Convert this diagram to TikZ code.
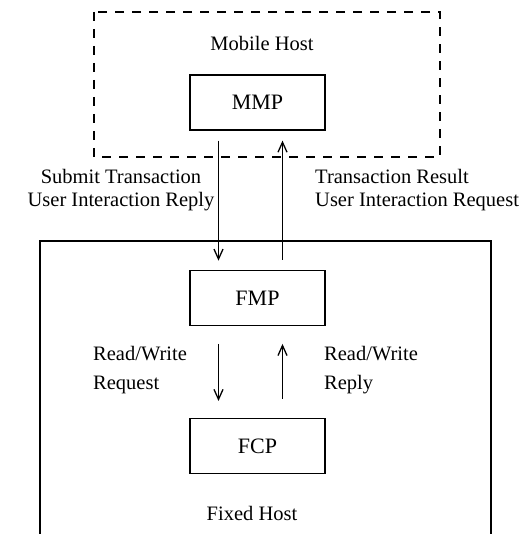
\documentclass[tikz,border=0pt]{standalone}
\usepackage{fontspec}
\setmainfont{Liberation Serif}
\usetikzlibrary{arrows.meta,positioning}

\begin{document}
\begin{tikzpicture}[
  x=1pt,y=1pt,
  font=\fontsize{20.5}{23}\selectfont,
  proc/.style={draw,line width=1.3pt,minimum width=135pt,minimum height=55pt,font=\fontsize{22}{26}\selectfont},
  host/.style={line width=1.3pt},
  arr/.style={-{Straight Barb[length=10pt,width=9pt]},line width=1.3pt},
  lbl/.style={inner sep=0pt,align=left},
]
\useasboundingbox (0,0) rectangle (531,-534);

\node[proc] (mmp) at (257.5,-102.5) {MMP};
\node[proc,below=139pt of mmp] (fmp) {FMP};
\node[proc,below=92pt of fmp] (fcp) {FCP};

% hosts
\draw[host,dash pattern=on 9pt off 8pt] (94,-12) rectangle (440,-157);
\node (mobile) at (262,-43) {Mobile Host};
\coordinate (fixbl) at (40,-534);
\coordinate (fixtr) at (491,-241);
\draw[host] (fixbl) |- (fixtr) -- (fixtr |- fixbl);
\node (fixed) at (252,-513) {Fixed Host};

% messages
\draw[arr] ([xshift=-39pt,yshift=-10pt]mmp.south) -- ([xshift=-39pt,yshift=9pt]fmp.north);
\draw[arr] ([xshift=25pt,yshift=10pt]fmp.north) -- ([xshift=25pt,yshift=-10pt]mmp.south);
\draw[arr] ([xshift=-39pt,yshift=-18pt]fmp.south) -- ([xshift=-39pt,yshift=17pt]fcp.north);
\draw[arr] ([xshift=25pt,yshift=19pt]fcp.north) -- ([xshift=25pt,yshift=-18pt]fmp.south);

\node[lbl,align=center] (submit) at (121,-190.5) {Submit Transaction\\User Interaction Reply};
\node[lbl,anchor=west] (result) at (315,-190.5) {Transaction Result\\User Interaction Request};
\node[lbl,anchor=west] (rwreq) at (93,-370.5) {Read/Write\\[6pt]Request};
\node[lbl,anchor=west] (rwrep) at (324,-370.5) {Read/Write\\[6pt]Reply};
\end{tikzpicture}
\end{document}
